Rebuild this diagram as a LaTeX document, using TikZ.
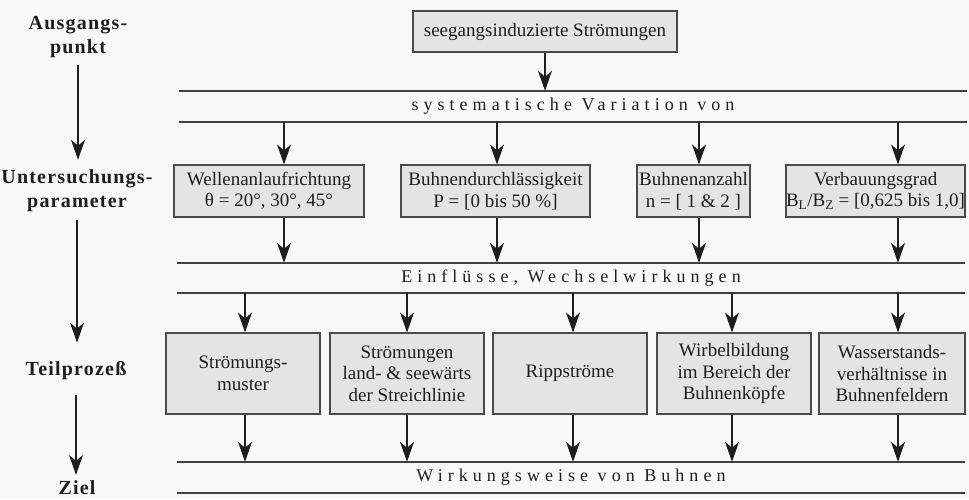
\documentclass[tikz,border=0pt]{standalone}
\usepackage{fontspec}
\setmainfont{Liberation Serif}
\usetikzlibrary{arrows.meta}
\definecolor{boxfill}{HTML}{E4E4E4}
\definecolor{boxedge}{HTML}{4A4A4A}
\definecolor{ink}{HTML}{1E1E1E}
\definecolor{paper}{HTML}{F8F8F8}
\tikzset{
  arr/.style={draw=ink, line width=1.4pt, -{Stealth[length=20pt, width=14pt, inset=6pt]}},
  stepbox/.style={draw=boxedge, fill=boxfill, line width=1.1pt, inner sep=0pt,
    align=center, text=ink, font=\fontsize{19}{21.5}\selectfont},
  band/.style={inner sep=0pt, minimum width=788pt, text=ink,
    font=\fontsize{18}{20}\selectfont\addfontfeature{LetterSpace=28}},
  bandline/.style={draw=ink!85, line width=1.5pt},
  stage/.style={inner sep=0pt, align=center, text=ink,
    font=\fontsize{20}{24}\selectfont\bfseries\addfontfeature{LetterSpace=6}},
}
\begin{document}
\begin{tikzpicture}[x=1pt, y=-1pt]
  \clip (0,0) rectangle (969,499);
  \fill[paper] (0,0) rectangle (969,499);

  % stages on the left
  \node[stage] (aus) at (78,37) {Ausgangs-\\punkt};
  \node[stage] (unt) at (77,191) {Untersuchungs-\\parameter};
  \node[stage] (teil) at (76,371) {Teilprozeß};
  \node[stage, anchor=base] (ziel) at (77,494) {Ziel};
  \draw[arr, shorten <=7pt, shorten >=10pt] (aus.south) -- (aus.south |- unt.north);
  \draw[arr, shorten <=8pt, shorten >=19pt] (unt.south) -- (unt.south |- teil.north);
  \draw[arr, shorten <=15pt, shorten >=5pt] (teil.south) -- (teil.south |- ziel.north);

  % starting point
  \node[stepbox, minimum width=264pt, minimum height=41pt] (start) at (545,31.5) {seegangsinduzierte Strömungen};

  % horizontal bands
  \node[band, minimum height=31pt] (sys) at (573,106.5) {systematische Variation von};
  \node[band, minimum height=30pt] (ein) at (571,278) {Einflüsse, Wechselwirkungen};
  \node[band, minimum height=31pt] (wir) at (571,477.5) {Wirkungsweise von Buhnen};
  \foreach \b in {sys,ein,wir}{
    \draw[bandline] (\b.north west) -- (\b.north east);
    \draw[bandline] (\b.south west) -- (\b.south east);
  }

  % parameters
  \node[stepbox, minimum width=190pt, minimum height=52pt] (p1) at (269,191)
    {Wellenanlaufrichtung\\θ = 20°, 30°, 45°};
  \node[stepbox, minimum width=189pt, minimum height=52pt] (p2) at (495.5,191)
    {Buhnendurchlässigkeit\\P = [0 bis 50 \%]};
  \node[stepbox, minimum width=113pt, minimum height=52pt] (p3) at (693.5,191)
    {Buhnenanzahl\\n = [ 1 \& 2 ]};
  \node[stepbox, minimum width=179pt, minimum height=52pt] (p4) at (875.5,191)
    {Verbauungsgrad\\B\textsubscript{L}/B\textsubscript{Z} = [0,625 bis 1,0]};

  % sub-processes
  \node[stepbox, minimum width=154pt, minimum height=81pt] (q1) at (243,373.5)
    {Strömungs-\\muster};
  \node[stepbox, minimum width=154pt, minimum height=81pt] (q2) at (407,373.5)
    {Strömungen\\land- \& seewärts\\der Streichlinie};
  \node[stepbox, minimum width=154pt, minimum height=81pt] (q3) at (570,373.5)
    {Rippströme};
  \node[stepbox, minimum width=154pt, minimum height=81pt] (q4) at (734,373.5)
    {Wirbelbildung\\im Bereich der\\Buhnenköpfe};
  \node[stepbox, minimum width=146pt, minimum height=81pt] (q5) at (892,373.5)
    {Wasserstands-\\verhältnisse in\\Buhnenfeldern};

  % arrow columns
  \coordinate (c0) at (545,0);
  \coordinate (c1) at (284,0);
  \coordinate (c2) at (497,0);
  \coordinate (c3) at (699,0);
  \coordinate (c4) at (898,0);
  \coordinate (d1) at (245,0);
  \coordinate (d2) at (407,0);
  \coordinate (d3) at (573,0);
  \coordinate (d4) at (732,0);
  \coordinate (d5) at (898,0);

  \draw[arr] (start.south) -- (sys.north -| c0);
  \foreach \i in {1,...,4}{
    \draw[arr] (sys.south -| c\i) -- (p\i.north -| c\i);
    \draw[arr] (p\i.south -| c\i) -- (ein.north -| c\i);
  }
  \foreach \i in {1,...,5}{
    \draw[arr] (ein.south -| d\i) -- (q\i.north -| d\i);
    \draw[arr] (q\i.south -| d\i) -- (wir.north -| d\i);
  }
\end{tikzpicture}
\end{document}
